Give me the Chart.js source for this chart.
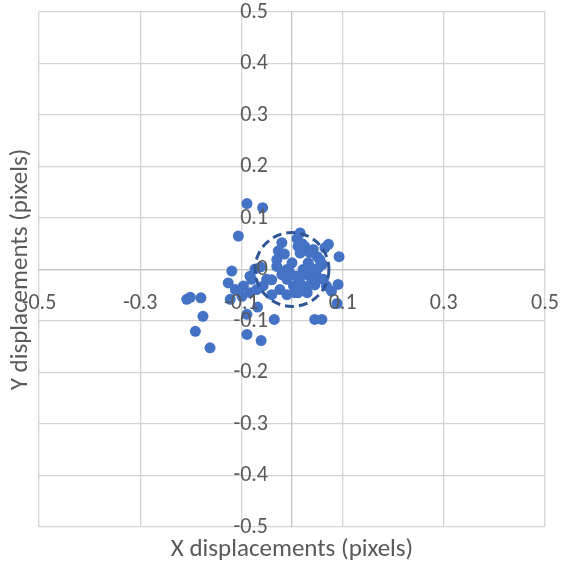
<!DOCTYPE html>
<html>
<head>
<meta charset="utf-8">
<script src="https://cdn.jsdelivr.net/npm/chart.js@4"></script>
<style>
  html, body { margin: 0; padding: 0; background: #fff; }
</style>
</head>
<body>
<canvas id="myChart" width="571" height="565"></canvas>
<script>
// displacement samples
const xValues = [
  -0.089, -0.058, -0.106, -0.119, -0.126, -0.208, -0.201, -0.180, -0.176, -0.191,
  -0.162, -0.089, -0.061, -0.035, -0.089, -0.068, -0.122, -0.112, -0.096, -0.080,
  -0.073, -0.062, 0.045, 0.059, 0.093, 0.091, 0.089, 0.072, 0.065, 0.042,
  0.016, -0.020, -0.027, -0.030, -0.030, 0.055, 0.052, 0.049, 0.062, 0.068,
  0.078, 0.032, 0.022, 0.009, -0.010, -0.024, -0.010, -0.040, -0.057, -0.050,
  0.003, 0.022, 0.039, 0.029, 0.016, 0.000, -0.010, 0.042, 0.035, 0.012,
  -0.083, -0.099, -0.083, -0.070, 0.010, 0.020, 0.012, -0.005, 0.028, 0.060,
  0.035, 0.045, 0.015, -0.015, 0.005, 0.025, -0.040, 0.050, 0.030, -0.020
];
const yValues = [
  0.128, 0.120, 0.065, -0.003, -0.026, -0.058, -0.054, -0.055, -0.091, -0.120,
  -0.152, -0.126, -0.138, -0.097, -0.087, -0.073, -0.058, -0.039, -0.032, -0.019,
  0.001, 0.005, -0.097, -0.097, 0.025, -0.029, -0.066, 0.049, 0.042, 0.039,
  0.071, 0.052, 0.036, 0.019, 0.006, 0.019, 0.003, -0.013, -0.019, -0.032,
  -0.042, 0.013, 0.000, -0.013, -0.019, -0.039, -0.049, -0.049, -0.032, -0.019,
  -0.032, -0.032, -0.023, -0.010, 0.032, 0.013, 0.000, 0.000, 0.033, -0.045,
  -0.045, -0.052, -0.013, -0.039, 0.060, 0.050, 0.045, -0.005, -0.040, 0.010,
  0.005, -0.030, -0.025, 0.030, -0.045, 0.045, -0.020, 0.025, -0.045, -0.010
];
const xTicks = [-0.5, -0.3, -0.1, 0.1, 0.3, 0.5];
const yTicks = [-0.5, -0.4, -0.3, -0.2, -0.1, 0, 0.1, 0.2, 0.3, 0.4, 0.5];
const circleRadius = 0.073; // dashed ring around the origin

const points = xValues.map((x, i) => ({ x: x, y: yValues[i] }));
const fontFamily = "Calibri, Carlito, Lato, sans-serif";
const textColor = '#595959';
const fmt = (v) => String(Math.round(v * 10) / 10);

// tick labels sit well off the centred axes (Excel style), so draw them here
const overlay = {
    id: 'overlay',
    afterDatasetsDraw(chart) {
        const { ctx, scales: { x, y } } = chart;
        const cx = x.getPixelForValue(0);
        const cy = y.getPixelForValue(0);
        const r = x.getPixelForValue(circleRadius) - cx;
        ctx.save();
        ctx.strokeStyle = '#2F5597';
        ctx.lineWidth = 3;
        ctx.setLineDash([9, 5]);
        ctx.beginPath();
        ctx.arc(cx, cy, r, 0, Math.PI * 2);
        ctx.stroke();
        ctx.restore();
    },
    afterDraw(chart) {
        const { ctx, chartArea, scales: { x, y } } = chart;
        const x0 = x.getPixelForValue(0);
        const y0 = y.getPixelForValue(0);
        ctx.save();
        ctx.fillStyle = textColor;
        ctx.font = '22px ' + fontFamily;
        ctx.textBaseline = 'middle';
        ctx.textAlign = 'right';
        y.ticks.forEach(t => ctx.fillText(fmt(t.value), x0 - 24, y.getPixelForValue(t.value)));
        ctx.textAlign = 'center';
        x.ticks.forEach(t => ctx.fillText(fmt(t.value), x.getPixelForValue(t.value), y0 + 34));

        ctx.font = '25px ' + fontFamily;
        ctx.fillText('X displacements (pixels)', (chartArea.left + chartArea.right) / 2, 550);
        ctx.translate(21, (chartArea.top + chartArea.bottom) / 2);
        ctx.rotate(-Math.PI / 2);
        ctx.fillText('Y displacements (pixels)', 0, 0);
        ctx.restore();
    }
};

const ctx = document.getElementById('myChart').getContext('2d');
new Chart(ctx, {
    type: 'scatter',
    data: {
        datasets: [{
            data: points,
            backgroundColor: '#4472C4',
            borderColor: '#4472C4',
            borderWidth: 0,
            pointRadius: 5.5,
        }]
    },
    options: {
        responsive: false,
        animation: false,
        layout: { padding: { left: 39, right: 26, top: 12, bottom: 38 } },
        plugins: {
            legend: { display: false },
            tooltip: { enabled: false }
        },
        scales: {
            x: {
                type: 'linear',
                position: { y: 0 },
                min: -0.5,
                max: 0.5,
                afterBuildTicks: (axis) => { axis.ticks = xTicks.map(v => ({ value: v })); },
                grid: { color: '#d4d4d4', lineWidth: 1.3, drawTicks: false },
                border: { color: '#c4c4c4', width: 1.3 },
                ticks: { display: false }
            },
            y: {
                type: 'linear',
                position: { x: 0 },
                min: -0.5,
                max: 0.5,
                afterBuildTicks: (axis) => { axis.ticks = yTicks.map(v => ({ value: v })); },
                grid: { color: '#d4d4d4', lineWidth: 1.3, drawTicks: false },
                border: { color: '#c4c4c4', width: 1.3 },
                ticks: { display: false }
            }
        }
    },
    plugins: [overlay]
});
</script>
</body>
</html>
